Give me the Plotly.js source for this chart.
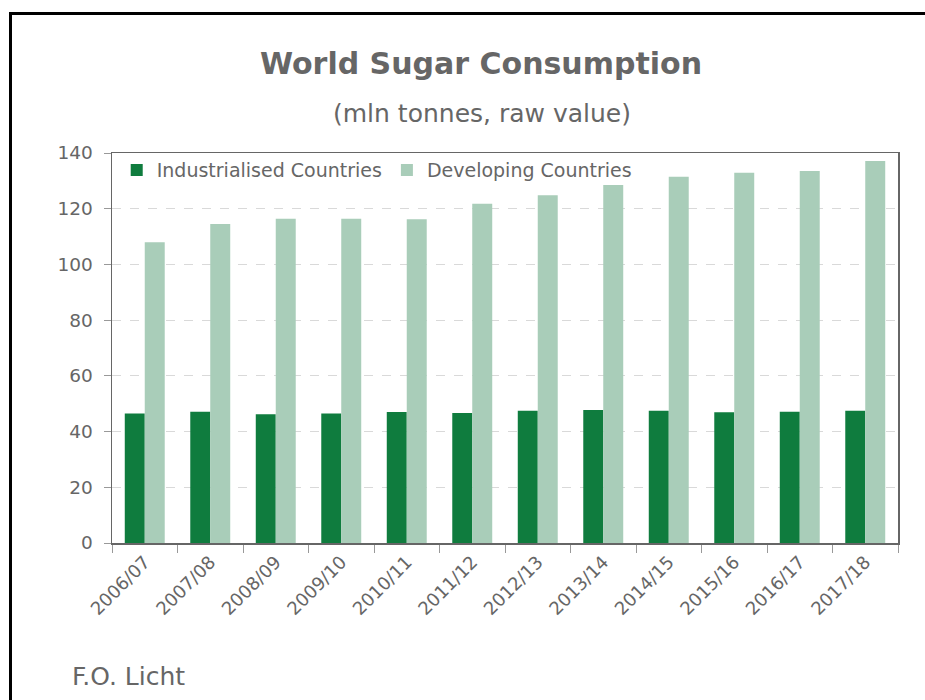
<!DOCTYPE html>
<html>
<head>
<meta charset="utf-8">
<script src="https://cdn.plot.ly/plotly-3.0.1.min.js"></script>
<style>
  html, body { margin: 0; padding: 0; background: #fff; }
  #frame { position: absolute; left: 9px; top: 12px; width: 940px; height: 720px; border-left: 3px solid #000; border-top: 3px solid #000; box-sizing: border-box; pointer-events: none; z-index: 5; }
  #chart { position: absolute; left: 0; top: 0; width: 925px; height: 700px; }
</style>
</head>
<body>
<div id="chart"></div>
<div id="frame"></div>
<script>
const seasons = ["2006/07","2007/08","2008/09","2009/10","2010/11","2011/12","2012/13","2013/14","2014/15","2015/16","2016/17","2017/18"];
const industrialised = [46.5, 47.1, 46.2, 46.5, 47.0, 46.7, 47.5, 47.7, 47.5, 46.9, 47.1, 47.5];
const developing = [108.0, 114.5, 116.4, 116.4, 116.2, 121.8, 124.8, 128.5, 131.5, 132.9, 133.5, 137.1];
const seriesNames = ["Industrialised Countries", "Developing Countries"];

const textColor = "#666666";
const font = "DejaVu Sans, Verdana, sans-serif";

const traces = [
  { type: "bar", name: seriesNames[0], x: seasons, y: industrialised, marker: { color: "#0f7c3e", line: { width: 0 } } },
  { type: "bar", name: seriesNames[1], x: seasons, y: developing, marker: { color: "#a9cdb9", line: { width: 0 } } }
];

const layout = {
  width: 925, height: 700,
  margin: { l: 112, r: 27, t: 153, b: 157 },
  paper_bgcolor: "#fff", plot_bgcolor: "#fff",
  font: { family: font, color: textColor, size: 18 },
  title: { text: "<b>World Sugar Consumption</b>", x: 0.52, xanchor: "center", y: 0.91, yanchor: "middle", font: { family: font, size: 30, color: textColor } },
  barmode: "group", bargap: 0.39, bargroupgap: 0,
  showlegend: true,
  legend: { orientation: "h", x: 0.006, xanchor: "left", y: 1.005, yanchor: "top", bgcolor: "rgba(0,0,0,0)", font: { size: 19, color: textColor }, itemwidth: 30, traceorder: "normal" },
  xaxis: {
    type: "category", tickangle: -45, tickson: "boundaries", ticks: "outside", ticklen: 8, tickcolor: "#999",
    showline: true, linecolor: "#666", linewidth: 1.5, mirror: true, showgrid: false,
    tickfont: { size: 18, color: textColor }
  },
  yaxis: {
    range: [0, 140], dtick: 20, ticks: "outside", ticklen: 7, tickcolor: "#999", ticklabelstandoff: 7,
    showline: true, linecolor: "#666", linewidth: 1.5, mirror: true,
    showgrid: true, gridcolor: "#d9d9d9", griddash: "dash", gridwidth: 1, zeroline: false,
    tickfont: { size: 18.5, color: textColor }
  },
  annotations: [
    { text: "(mln tonnes, raw value)", xref: "paper", yref: "paper", x: 0.471, y: 1.102, xanchor: "center", yanchor: "middle", showarrow: false, font: { family: font, size: 25, color: textColor } },
    { text: "F.O. Licht", xref: "paper", yref: "paper", x: -0.054, y: -0.343, xanchor: "left", yanchor: "middle", showarrow: false, font: { family: font, size: 25, color: textColor } }
  ]
};

Plotly.newPlot("chart", traces, layout, { displayModeBar: false, staticPlot: true });
</script>
</body>
</html>
